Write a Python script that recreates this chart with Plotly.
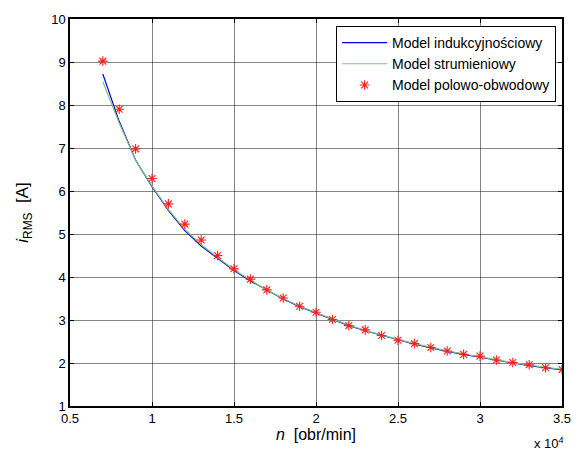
import plotly.graph_objects as go

n_vals = [7000, 8000, 9000, 10000, 11000, 12000, 13000, 14000, 15000, 16000,
          17000, 18000, 19000, 20000, 21000, 22000, 23000, 24000, 25000, 26000,
          27000, 28000, 29000, 30000, 31000, 32000, 33000, 34000, 35000]

i_induk = [8.72, 7.62, 6.72, 6.10, 5.55, 5.08, 4.72, 4.43, 4.15, 3.91,
           3.69, 3.49, 3.31, 3.16, 3.01, 2.87, 2.75, 2.64, 2.54, 2.44,
           2.35, 2.27, 2.20, 2.13, 2.06, 2.00, 1.94, 1.89, 1.84]

i_strum = [8.54, 7.58, 6.72, 6.12, 5.57, 5.11, 4.75, 4.45, 4.17, 3.93,
           3.70, 3.50, 3.32, 3.17, 3.02, 2.88, 2.76, 2.65, 2.55, 2.45,
           2.36, 2.28, 2.21, 2.14, 2.07, 2.01, 1.95, 1.90, 1.85]

i_polowo = [9.02, 7.90, 6.98, 6.29, 5.70, 5.23, 4.86, 4.50, 4.19, 3.95,
            3.70, 3.51, 3.32, 3.18, 3.01, 2.87, 2.77, 2.64, 2.53, 2.45,
            2.36, 2.28, 2.20, 2.16, 2.07, 2.01, 1.96, 1.89, 1.85]

x_ticks = [5000, 10000, 15000, 20000, 25000, 30000, 35000]
x_ticktext = ["0.5", "1", "1.5", "2", "2.5", "3", "3.5"]
y_ticks = [1, 2, 3, 4, 5, 6, 7, 8, 9, 10]

FONT = "Liberation Sans, Arial, sans-serif"

fig = go.Figure()
fig.add_trace(go.Scatter(x=n_vals, y=i_induk, mode="lines",
                         name="Model indukcyjnościowy",
                         line=dict(color="rgb(0,0,220)", width=1.2)))
fig.add_trace(go.Scatter(x=n_vals, y=i_strum, mode="lines",
                         name="Model strumieniowy",
                         line=dict(color="rgb(130,195,130)", width=1.2)))
fig.add_trace(go.Scatter(x=n_vals, y=i_polowo, mode="markers",
                         name="Model polowo-obwodowy",
                         marker=dict(symbol="asterisk-open", size=8,
                                     color="rgb(255,30,30)",
                                     line=dict(color="rgb(255,30,30)", width=1.1))))

axis_common = dict(showline=True, linecolor="black", linewidth=1.5, mirror="ticks",
                   ticks="inside", ticklen=4, tickcolor="black",
                   showgrid=True, gridcolor="rgba(0,0,0,0.48)", gridwidth=1,
                   zeroline=False,
                   tickfont=dict(family=FONT, size=13, color="black"))

fig.update_xaxes(range=[5000, 35000], tickvals=x_ticks, ticktext=x_ticktext,
                 title=dict(text="<i>n</i>  [obr/min]",
                            font=dict(family=FONT, size=16, color="black"),
                            standoff=0),
                 **axis_common)
fig.update_yaxes(range=[1, 10], tickvals=y_ticks,
                 title=dict(text="<i>i</i><sub>RMS</sub>  [A]",
                            font=dict(family=FONT, size=17, color="black"),
                            standoff=18),
                 **axis_common)

fig.add_annotation(x=1, y=0, xref="paper", yref="paper", xanchor="right",
                   yanchor="top", yshift=-27, xshift=4,
                   text="x 10<sup>4</sup>", showarrow=False,
                   font=dict(family=FONT, size=13, color="black"))

fig.update_layout(
    width=583, height=454,
    margin=dict(l=70, r=16, t=15, b=48),
    paper_bgcolor="white", plot_bgcolor="white",
    showlegend=True,
    legend=dict(x=0.988, y=0.982, xanchor="right", yanchor="top",
                bgcolor="white", bordercolor="black", borderwidth=1,
                font=dict(family=FONT, size=14, color="black"),
                tracegroupgap=0, itemwidth=45),
)

fig.write_html("out.html", config={"displayModeBar": False},
               post_script="document.body.style.margin='0';document.body.style.overflow='hidden';")
